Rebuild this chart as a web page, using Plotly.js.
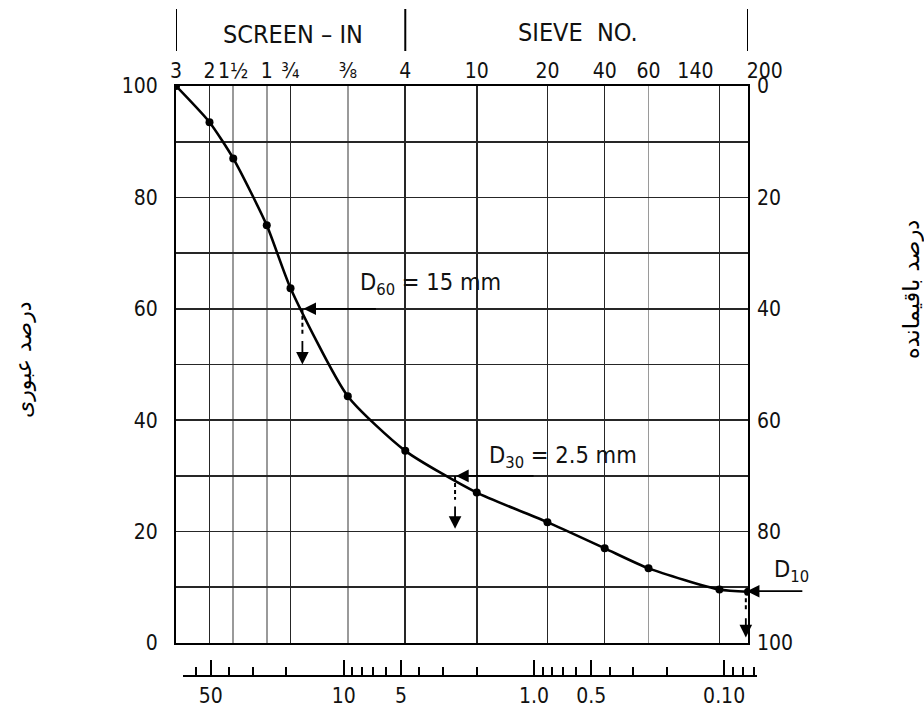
<!DOCTYPE html>
<html>
<head>
<meta charset="utf-8">
<script src="https://cdn.plot.ly/plotly-3.0.1.min.js"></script>
<style>html,body{margin:0;padding:0;background:#fff;}#chart{width:924px;height:711px;}</style>
</head>
<body>
<div id="chart"></div>
<script>
// ---- data ----
const sieveLabels = ['3','2','1½','1','¾','⅜','4','10','20','40','60','140','200'];
const sieveSizes = [76.2, 50.8, 38.1, 25.4, 19.05, 9.525, 4.75, 2.0, 0.85, 0.425, 0.25, 0.106, 0.075];
const percentPassing = [100, 93.5, 87, 75, 63.7, 44.3, 34.5, 27, 21.7, 17, 13.4, 9.6, 9.2];
const darkGridSizes = [50.8, 19.05, 4.75, 2.0, 0.85, 0.425, 0.106];
const lightGridSizes = [38.1, 25.4, 9.525, 0.25];
const mmMajorTicks = [50, 10, 5, 1, 0.5, 0.1];
const mmMajorLabels = ['50', '10', '5', '1.0', '0.5', '0.10'];
const mmMinorTicks = [70, 60, 40, 30, 20, 9, 8, 7, 6, 4, 3, 2, 0.9, 0.8, 0.7, 0.6, 0.4, 0.3, 0.2, 0.09, 0.08, 0.07];
const passingTicks = [0, 20, 40, 60, 80, 100];
const passingMinorTicks = [10, 30, 50, 70, 90];
const retainedTicks = [0, 20, 40, 60, 80, 100];
const dLabels = ['D<sub>60</sub> = 15 mm', 'D<sub>30</sub> = 2.5 mm', 'D<sub>10</sub>'];
const dSizes = [16.5, 2.6, 0.077];
const dPercents = [60, 30, 9.3];
const dArrowEnd = [50, 20.5, 1];
const dLabelSizes = [8.4, 1.77, null];
const dLabelPercents = [64.6, 33.4, 13.1];
const headerLabels = ['SCREEN – IN', 'SIEVE\u00a0 NO.'];
const headerBounds = [76.2, 4.75, 0.075];
const leftTitle = 'درصد عبوری';
const rightTitle = 'درصد باقیمانده';

// ---- styling ----
const FONT = 'DejaVu Sans Condensed, DejaVu Sans, Verdana, sans-serif';
const L = Math.log10;
const xRange = [L(76.2), L(0.075)];
const dark = '#262626', light = '#9a9a9a';
// nudge the two crowded right-hand sieve labels apart, as in the reference
const sieveText = sieveLabels.map(t => t === '140' ? t + '\u2007\u2007\u2007\u2007' : (t === '200' ? '\u2007\u2007\u2002' + t : t));

const traces = [];
traces.push({
  x: sieveSizes, y: percentPassing, type: 'scatter', mode: 'lines+markers',
  line: {color: '#000', width: 2.6, shape: 'spline', smoothing: 0.6},
  marker: {color: '#000', size: 8, symbol: 'circle'},
  hoverinfo: 'x+y', showlegend: false
});
for (let i = 0; i < dSizes.length; i++) {
  const mid = dPercents[i] - (dPercents[i] - dArrowEnd[i]) * 0.45;
  traces.push({
    x: [dSizes[i], dSizes[i]], y: [dPercents[i], mid], type: 'scatter', mode: 'lines',
    line: {color: '#000', width: 2, dash: '4px,3px'}, hoverinfo: 'skip', showlegend: false
  });
}
traces.push({x: [1], y: [50], xaxis: 'x', yaxis: 'y2', mode: 'markers', marker: {opacity: 0}, hoverinfo: 'skip', showlegend: false});
traces.push({x: [1], y: [50], xaxis: 'x3', yaxis: 'y', mode: 'markers', marker: {opacity: 0}, hoverinfo: 'skip', showlegend: false});
traces.push({x: [1], y: [50], xaxis: 'x4', yaxis: 'y3', mode: 'markers', marker: {opacity: 0}, hoverinfo: 'skip', showlegend: false});

const plotW = 581, plotH = 590, leftM = 176, topM = 86;
const mainXDomain = [0, 572 / plotW];
const yDomain = [33 / plotH, 1];

const annotations = [];
const hTail = [75, 80, 58];
for (let i = 0; i < dSizes.length; i++) {
  annotations.push({
    x: L(dSizes[i]), y: dPercents[i], xref: 'x', yref: 'y', text: '', showarrow: true,
    ax: hTail[i], ay: 0, axref: 'pixel', ayref: 'pixel',
    arrowhead: 2, arrowsize: 1.4, arrowwidth: 1.8, arrowcolor: '#000', standoff: 1
  });
  const mid = dPercents[i] - (dPercents[i] - dArrowEnd[i]) * 0.55;
  annotations.push({
    x: L(dSizes[i]), y: dArrowEnd[i], xref: 'x', yref: 'y', text: '', showarrow: true,
    ax: L(dSizes[i]), ay: mid, axref: 'x', ayref: 'y',
    arrowhead: 2, arrowsize: 1.4, arrowwidth: 1.8, arrowcolor: '#000'
  });
}
const annFont = {family: FONT, size: 23.5, color: '#111'};
annotations.push({x: L(dLabelSizes[0]), y: dLabelPercents[0], xref: 'x', yref: 'y', text: dLabels[0], showarrow: false, xanchor: 'left', yanchor: 'middle', font: annFont});
annotations.push({x: L(dLabelSizes[1]), y: dLabelPercents[1], xref: 'x', yref: 'y', text: dLabels[1], showarrow: false, xanchor: 'left', yanchor: 'middle', font: annFont});
annotations.push({x: (772 - leftM) / plotW, y: dLabelPercents[2], xref: 'paper', yref: 'y', text: dLabels[2], showarrow: false, xanchor: 'left', yanchor: 'middle', font: annFont});
const headFont = {family: FONT, size: 25, color: '#111'};
annotations.push({x: (293 - leftM) / plotW, y: (676 - 34) / plotH, xref: 'paper', yref: 'paper', text: headerLabels[0], showarrow: false, xanchor: 'center', yanchor: 'middle', font: headFont});
annotations.push({x: (578 - leftM) / plotW, y: (676 - 33) / plotH, xref: 'paper', yref: 'paper', text: headerLabels[1], showarrow: false, xanchor: 'center', yanchor: 'middle', font: headFont});
annotations.push({x: (23 - leftM) / plotW, y: (676 - 360) / plotH, xref: 'paper', yref: 'paper', text: leftTitle, textangle: -90, showarrow: false, xanchor: 'center', yanchor: 'middle', font: {family: 'DejaVu Sans, sans-serif', size: 22, color: '#000'}});
annotations.push({x: (911 - leftM) / plotW, y: (676 - 290) / plotH, xref: 'paper', yref: 'paper', text: rightTitle, textangle: -90, showarrow: false, xanchor: 'center', yanchor: 'middle', font: {family: 'DejaVu Sans, sans-serif', size: 22.5, color: '#000'}});

const shapes = headerBounds.map(v => ({
  type: 'line', xref: 'x', yref: 'paper', x0: v, x1: v,
  y0: (676 - 51) / plotH, y1: (676 - 9) / plotH, line: {color: '#000', width: 2}
}));

const tickFont = {family: FONT, size: 21, color: '#111'};

const layout = {
  width: 924, height: 711,
  margin: {l: leftM, r: 924 - leftM - plotW, t: topM, b: 711 - topM - plotH, autoexpand: false},
  paper_bgcolor: '#fff', plot_bgcolor: 'rgba(0,0,0,0)',
  showlegend: false,
  xaxis: {
    type: 'log', range: xRange, domain: mainXDomain, anchor: 'y',
    tickmode: 'array', tickvals: darkGridSizes, showticklabels: false, ticks: '',
    showgrid: true, gridcolor: dark, gridwidth: 1.6,
    minor: {tickmode: 'array', tickvals: lightGridSizes, showgrid: true, gridcolor: light, gridwidth: 1.6, ticks: ''},
    showline: true, linecolor: '#000', linewidth: 2, mirror: true, zeroline: false
  },
  xaxis3: {
    type: 'log', range: xRange, overlaying: 'x', side: 'top', anchor: 'y',
    tickmode: 'array', tickvals: sieveSizes, ticktext: sieveText, ticks: '', tickangle: 0,
    showgrid: false, showline: false, zeroline: false, tickfont: tickFont, ticklabelstandoff: 3
  },
  xaxis4: {
    type: 'log', range: [L(70), L(70) - 574 / 190.2], domain: [7 / plotW, 1],
    anchor: 'free', position: 0,
    tickmode: 'array', tickvals: mmMajorTicks, ticktext: mmMajorLabels, tickangle: 0,
    ticks: 'inside', ticklen: 15, tickwidth: 2, tickcolor: '#000',
    minor: {tickmode: 'array', tickvals: mmMinorTicks, ticks: 'inside', ticklen: 8, tickwidth: 2, tickcolor: '#000', showgrid: false},
    showgrid: false, showline: true, linecolor: '#000', linewidth: 2, zeroline: false,
    tickfont: tickFont, ticklabelstandoff: 1
  },
  yaxis: {
    range: [0, 100], domain: yDomain, anchor: 'x',
    tickmode: 'array', tickvals: passingTicks, ticks: '',
    showgrid: true, gridcolor: dark, gridwidth: 1.6,
    minor: {tickmode: 'array', tickvals: passingMinorTicks, showgrid: true, gridcolor: dark, gridwidth: 1.6, ticks: ''},
    showline: true, linecolor: '#000', linewidth: 2, mirror: true, zeroline: false,
    tickfont: tickFont, ticklabelstandoff: 12
  },
  yaxis2: {
    range: [100, 0], overlaying: 'y', side: 'right', anchor: 'x',
    tickmode: 'array', tickvals: retainedTicks, ticks: '', showgrid: false, zeroline: false,
    tickfont: tickFont, ticklabelstandoff: 8
  },
  yaxis3: {
    domain: [0, 0.005], range: [0, 1], visible: false, showgrid: false, zeroline: false, anchor: 'free', position: 0
  },
  annotations: annotations,
  shapes: shapes
};

Plotly.newPlot('chart', traces, layout, {staticPlot: true, displayModeBar: false});
</script>
</body>
</html>
